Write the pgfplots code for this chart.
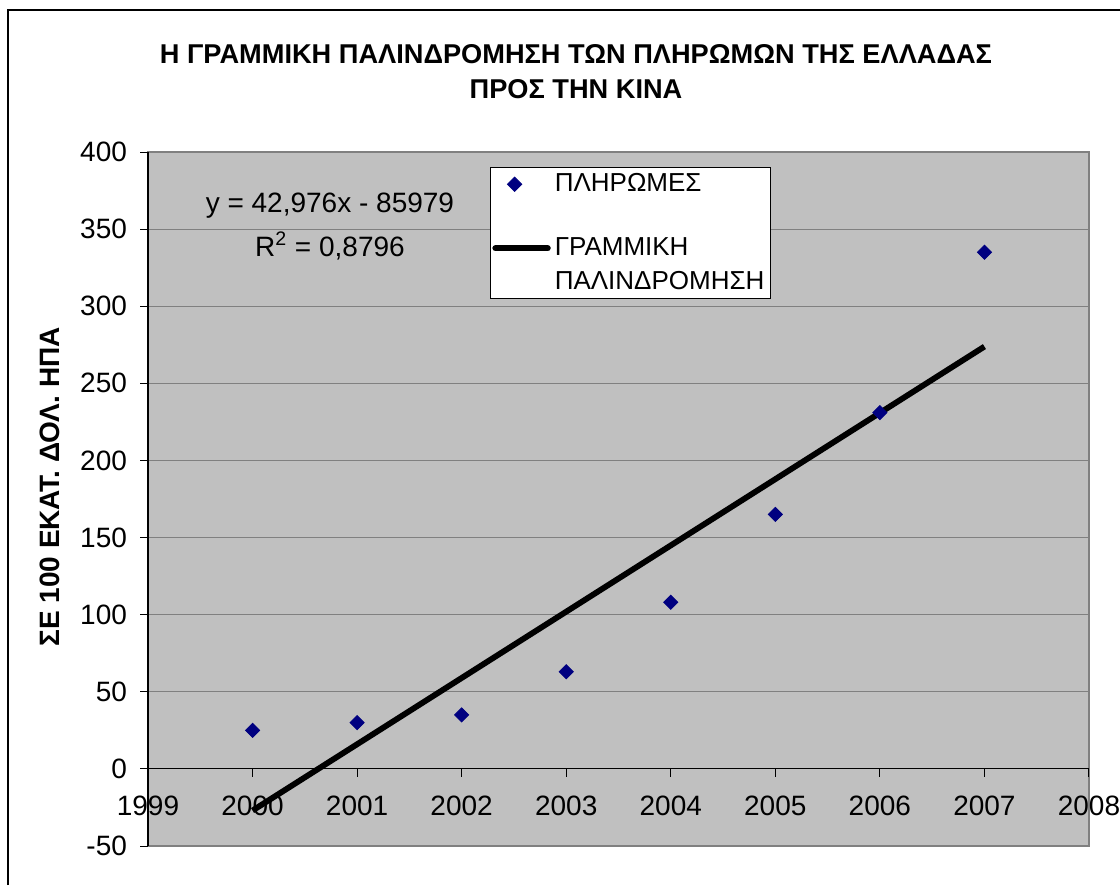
\documentclass[border=0pt]{standalone}
\usepackage{fontspec}
\setmainfont{Liberation Sans}
\usepackage{pgfplots}
\pgfplotsset{compat=1.18}
\definecolor{plotgray}{HTML}{C0C0C0}
\definecolor{navy}{HTML}{000080}
\definecolor{bordergray}{HTML}{808080}
\begin{document}
\begin{tikzpicture}
\path[use as bounding box] (0pt,0pt) rectangle (560pt,442.5pt);
\draw[line width=0.6pt] (4pt,0pt) -- (4pt,437.5pt) -- (560pt,437.5pt);
\node[font=\bfseries\fontsize{13.6}{17.5}\selectfont, align=center] at (288pt,406.5pt)
  {Η ΓΡΑΜΜΙΚΗ ΠΑΛΙΝΔΡΟΜΗΣΗ ΤΩΝ ΠΛΗΡΩΜΩΝ ΤΗΣ ΕΛΛΑΔΑΣ\\ΠΡΟΣ ΤΗΝ ΚΙΝΑ};
\node[rotate=90, font=\bfseries\fontsize{14}{16}\selectfont] at (25pt,199pt) {ΣΕ 100 ΕΚΑΤ. ΔΟΛ. ΗΠΑ};
\begin{axis}[
  at={(74pt,19.5pt)}, anchor=south west,
  width=470.5pt, height=347pt, scale only axis,
  xmin=1999, xmax=2008, ymin=-50, ymax=400,
  axis x line=middle, axis y line=left,
  axis line style={-, black, line width=0.6pt},
  axis background/.style={fill=plotgray, draw=bordergray, line width=1pt},
  xtick={1999,2000,...,2008}, ytick={-50,0,...,400},
  hide obscured x ticks=false, hide obscured y ticks=false,
  tick align=outside, major tick length=4pt,
  tick style={black, line width=0.5pt},
  ymajorgrids, grid style={bordergray, line width=0.5pt},
  ticklabel style={font=\fontsize{14}{16}\selectfont},
  x tick label style={/pgf/number format/1000 sep={}, yshift=-6pt},
  y tick label style={xshift=-3pt},
  /pgf/number format/assume math mode=true,
  legend style={at={(0.3634,0.978)}, anchor=north west, draw=black, fill=white,
    font=\fontsize{13}{17}\selectfont, cells={anchor=west, align=left},
    row sep=17.5pt, inner sep=1pt},
]
\addplot[only marks, mark=square*, mark size=2.5pt, mark options={rotate=45, fill=navy, draw=navy}]
  coordinates {(2000,25) (2001,30) (2002,35) (2003,63) (2004,108) (2005,165) (2006,231) (2007,335)};
\addlegendentry{ΠΛΗΡΩΜΕΣ}
\addplot[black, line width=2.9pt, legend image code/.code={\draw[black, line width=3.2pt, line cap=round] (-1pt,8.5pt) -- (25pt,8.5pt);}]
  coordinates {(2000,-27) (2007,273.832)};
\addlegendentry{ΓΡΑΜΜΙΚΗ\\ΠΑΛΙΝΔΡΟΜΗΣΗ}
\node[font=\fontsize{14}{16}\selectfont] at (axis cs:2000.74,365) {y = 42,976x - 85979};
\node[font=\fontsize{14}{16}\selectfont] at (axis cs:2000.74,339) {R\textsuperscript{2} = 0,8796};
\end{axis}
\end{tikzpicture}
\end{document}
